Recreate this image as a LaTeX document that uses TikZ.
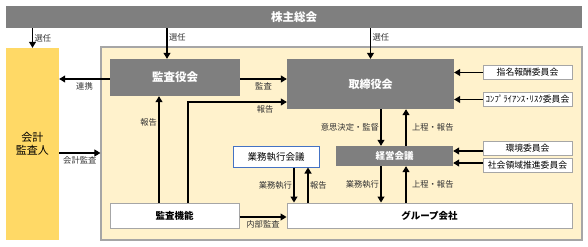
\documentclass[tikz,border=0pt]{standalone}
\usepackage{fontspec}
\setmainfont{Noto Sans CJK JP}
\usepackage{xcolor}
\usepackage{tikz}
\usetikzlibrary{positioning, arrows.meta, calc}

\definecolor{boxgray}{HTML}{7F7F7F}
\definecolor{auditgold}{HTML}{FFD966}
\definecolor{panelcream}{HTML}{FFF2CC}
\definecolor{framegray}{HTML}{A6A6A6}
\definecolor{meetblue}{HTML}{4472C4}

\tikzset{
  darkbox/.style={fill=boxgray, text=white, inner sep=0pt, font=\fontsize{10.5}{12}\selectfont\bfseries},
  whitebox/.style={draw=framegray, fill=white, line width=1pt, inner sep=0pt},
  committee/.style={whitebox, minimum width=89pt, minimum height=14pt, font=\fontsize{8.8}{10}\selectfont},
  arr/.style={-{Triangle[width=7pt,length=6pt]}, line width=1.1pt},
  lbl/.style={font=\fontsize{8.3}{9}\selectfont, inner sep=1.5pt, text=black!80}
}

\begin{document}
\begin{tikzpicture}[x=1pt, y=-1pt]
  \useasboundingbox (0,0) rectangle (588,246);

  % top bar and the two outer blocks
  \node[darkbox, minimum width=576pt, minimum height=22pt, font=\fontsize{11.5}{13}\selectfont\bfseries] (soukai) at (294,17) {株主総会};
  \node[fill=auditgold, minimum width=53pt, minimum height=192pt, inner sep=0pt, align=center,
        font=\fontsize{11}{13}\selectfont] (kaikei) at (32.5,144) {会計\\監査人};
  \node[draw=framegray, fill=panelcream, line width=1.2pt, minimum width=481pt, minimum height=193pt] (panel) at (341.5,143.5) {};

  % boards
  \node[darkbox, minimum width=130pt, minimum height=37pt, font=\fontsize{11.5}{13}\selectfont\bfseries] (kansayaku) at (175,77.5) {監査役会};
  \node[darkbox, minimum width=167pt, minimum height=50pt, font=\fontsize{11}{13}\selectfont\bfseries] (torishimari) at (370.5,84) {取締役会};
  \node[committee] (shimei) at (527.5,72.5) {指名報酬委員会};
  \node[committee] (compliance) at (527.5,99.5) {ｺﾝﾌﾟﾗｲｱﾝｽ･ﾘｽｸ委員会};

  % meetings
  \node[draw=meetblue, fill=white, line width=1pt, minimum width=86pt, minimum height=21pt, inner sep=0pt,
        font=\fontsize{9.5}{11}\selectfont] (gyoumu) at (276,156.5) {業務執行会議};
  \node[darkbox, minimum width=117pt, minimum height=20pt, font=\fontsize{9.5}{11}\selectfont\bfseries] (keiei) at (394.5,156) {経営会議};
  \node[committee] (kankyou) at (527.5,148.5) {環境委員会};
  \node[committee] (shakai) at (527.5,165) {社会領域推進委員会};

  % bottom row
  \node[whitebox, minimum width=129pt, minimum height=25pt, font=\fontsize{9.5}{11}\selectfont\bfseries] (kansakinou) at (174.5,215.5) {監査機能};
  \node[whitebox, minimum width=285pt, minimum height=25pt, font=\fontsize{9.5}{11}\selectfont\bfseries] (group) at (429.5,215.5) {グループ会社};

  % appointment
  \draw[arr] (soukai.south -| kaikei.north) -- node[lbl, right] {選任} (kaikei.north);
  \draw[arr] ([xshift=-8pt]kansayaku.north |- soukai.south) -- node[lbl, right, pos=0.3] {選任} ([xshift=-8pt]kansayaku.north);
  \draw[arr] (soukai.south -| torishimari.north) -- node[lbl, right, pos=0.3] {選任} (torishimari.north);

  % audit side
  \draw[arr] ([yshift=-1.5pt]kansayaku.west) -- node[lbl, below, yshift=-1pt] {連携} ([yshift=-1.5pt]kansayaku.west -| kaikei.east);
  \draw[arr] ([yshift=-1.5pt]kansayaku.east) -- node[lbl, below, yshift=-1pt] {監査} ([yshift=-1.5pt]kansayaku.east -| torishimari.west);
  \draw[arr] ([xshift=13.5pt]kansakinou.north) |- node[lbl, below, pos=0.89, yshift=-1pt] {報告} ([yshift=-18pt]torishimari.west);
  \draw[arr] ([xshift=-15.5pt]kansakinou.north) -- node[lbl, left, pos=0.75] {報告} ([xshift=-15.5pt]kansakinou.north |- kansayaku.south);
  \draw[arr] ([yshift=-9pt]kaikei.east) -- node[lbl, below, yshift=-1pt] {会計監査} ([yshift=-9pt]kaikei.east -| panel.west);
  \draw[arr] ([yshift=-1.5pt]kansakinou.east) -- node[lbl, below, yshift=-1pt] {内部監査} ([yshift=-1.5pt]kansakinou.east -| group.west);

  % board and management meeting
  \draw[arr] ([xshift=10.5pt]torishimari.south) -- node[lbl, left] {意思決定・監督} ([xshift=10.5pt]torishimari.south |- keiei.north);
  \draw[arr] ([xshift=11.5pt]keiei.north) -- node[lbl, right, xshift=4pt] {上程・報告} ([xshift=11.5pt]keiei.north |- torishimari.south);
  \draw[arr] (shimei.west) -- (shimei.west -| torishimari.east);
  \draw[arr] (compliance.west) -- (compliance.west -| torishimari.east);
  \draw[arr] ([yshift=-2.5pt]kankyou.west) -- ([yshift=-2.5pt]kankyou.west -| keiei.east);
  \draw[arr] ([yshift=2pt]shakai.west) -- ([yshift=2pt]shakai.west -| keiei.east);

  % execution
  \draw[arr] ([xshift=-13.5pt]keiei.south) -- node[lbl, left] {業務執行} ([xshift=-13.5pt]keiei.south |- group.north);
  \draw[arr] ([xshift=11.5pt]keiei.south |- group.north) -- node[lbl, right, xshift=4pt] {上程・報告} ([xshift=11.5pt]keiei.south);
  \draw[arr] ([xshift=18pt]gyoumu.south) -- node[lbl, left] {業務執行} ([xshift=18pt]gyoumu.south |- group.north);
  \draw[arr] ([xshift=32pt]gyoumu.south |- group.north) -- node[lbl, right] {報告} ([xshift=32pt]gyoumu.south);
\end{tikzpicture}
\end{document}
